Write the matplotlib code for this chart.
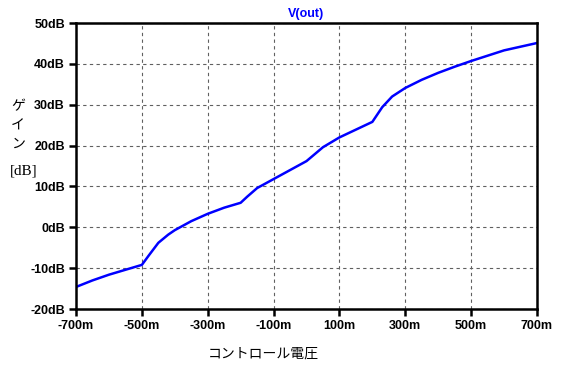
import matplotlib.pyplot as plt
import matplotlib.ticker as ticker

# Control voltage (mV) and gain (dB)
ctrl_mv = [-700, -650, -600, -550, -500, -480, -450, -420, -400, -350, -300,
           -250, -200, -180, -150, -100, -50, 0, 50, 100, 150, 200,
           230, 260, 300, 350, 400, 450, 500, 600, 700]
gain_db = [-14.6, -13.0, -11.6, -10.4, -9.2, -7.0, -3.8, -1.8, -0.7, 1.5, 3.3,
           4.8, 6.0, 7.5, 9.6, 11.8, 14.0, 16.2, 19.6, 22.0, 23.9, 25.8,
           29.4, 32.0, 34.1, 36.1, 37.8, 39.3, 40.7, 43.3, 45.1]

x_ticks = [-700, -500, -300, -100, 100, 300, 500, 700]
y_ticks = [-20, -10, 0, 10, 20, 30, 40, 50]

fig = plt.figure(figsize=(5.64, 3.68), dpi=100)
ax = fig.add_axes([0.1348, 0.1603, 0.8173, 0.7772])

ax.plot(ctrl_mv, gain_db, color='#0000ff', linewidth=1.8)

ax.set_xlim(-700, 700)
ax.set_ylim(-20, 50)
ax.set_xticks(x_ticks)
ax.set_yticks(y_ticks)
ax.xaxis.set_major_formatter(ticker.FuncFormatter(lambda v, p: f"{int(v)}m"))
ax.yaxis.set_major_formatter(ticker.FuncFormatter(lambda v, p: f"{int(v)}dB"))

ax.grid(True, linestyle=(0, (3, 3)), color='#606060', linewidth=0.8)

for s in ax.spines.values():
    s.set_linewidth(1.8)
    s.set_color('black')
ax.tick_params(direction='out', length=5, width=1.8, pad=3, colors='black')
for lab in ax.get_xticklabels() + ax.get_yticklabels():
    lab.set_fontfamily('Liberation Sans')
    lab.set_fontweight('bold')
    lab.set_fontsize(9)

# title
ax.set_title('V(out)', color='#0000ff', fontsize=9, fontweight='bold',
             family='Liberation Sans', pad=4)

# axis labels
fig.text(0.032, 0.66, 'ゲ\nイ\nン', family=['Noto Sans CJK JP', 'DejaVu Sans'],
         fontsize=10, ha='center', va='center', linespacing=1.45)
fig.text(0.042, 0.535, '[dB]', family='Liberation Serif', fontsize=11,
         ha='center', va='center')
fig.text(0.466, 0.04, 'コントロール電圧', family=['Noto Sans CJK JP', 'DejaVu Sans'],
         fontsize=10, ha='center', va='center')

fig.savefig('out.png', dpi=100)
